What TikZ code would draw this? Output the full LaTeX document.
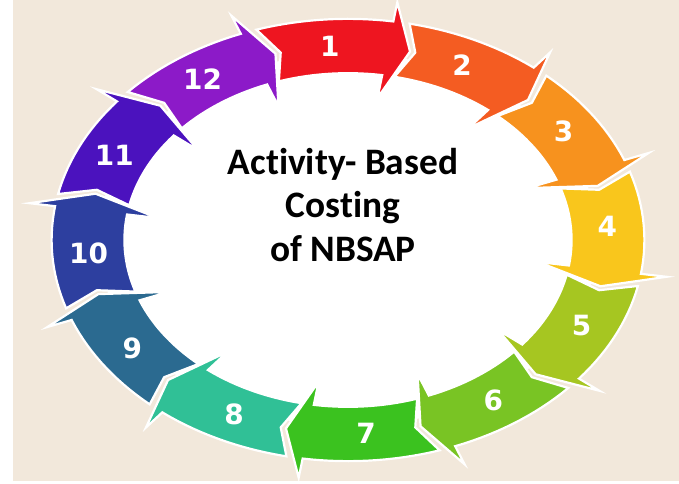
\documentclass[tikz,border=0pt]{standalone}
\usepackage{fontspec}
\setmainfont[Ligatures=NoCommon]{Carlito}
\newfontfamily\numfont{DejaVu Sans}

\definecolor{bgbeige}{HTML}{F2E8DB}
\definecolor{stepA}{HTML}{EE1520}
\definecolor{stepB}{HTML}{F45C22}
\definecolor{stepC}{HTML}{F7921E}
\definecolor{stepD}{HTML}{F9C61C}
\definecolor{stepE}{HTML}{A6C621}
\definecolor{stepF}{HTML}{79C424}
\definecolor{stepG}{HTML}{3BC21F}
\definecolor{stepH}{HTML}{30C096}
\definecolor{stepI}{HTML}{2B6A90}
\definecolor{stepJ}{HTML}{2D3F9F}
\definecolor{stepK}{HTML}{4B12BE}
\definecolor{stepL}{HTML}{8C1AC8}

\tikzset{
  ringarrow/.style={draw=white, line width=2.2pt, line join=miter},
  stepnum/.style={text=white, font=\numfont\bfseries\fontsize{28}{28}\selectfont},
}

\begin{document}
\begin{tikzpicture}[x=1bp, y=-1bp]

	%paper and white margin
	\fill[white] (0,0) rectangle (679,484);
	\fill[bgbeige] (13,0) rectangle (679,481);
	\useasboundingbox (0,0) rectangle (679,484);

	%white middle
	\fill[white] (348,240) ellipse [x radius=250, y radius=186];

	%ring of twelve arrows
	\foreach \k/\col in {1/stepA,2/stepB,3/stepC,4/stepD,5/stepE,6/stepF,
	                     7/stepG,8/stepH,9/stepI,10/stepJ,11/stepK,12/stepL} {
		\pgfmathsetmacro{\ph}{-93+30*(\k-1)}
		\pgfmathsetmacro{\ta}{\ph-15}
		\pgfmathsetmacro{\na}{\ph-12}
		\pgfmathsetmacro{\ba}{\ph+11.8}
		\pgfmathsetmacro{\pa}{\ph+16.8}
		\filldraw[ringarrow, fill=\col]
			plot[domain=\ta:\ba, samples=16] ({348+1.14*260*cos(\x)},{240+1.14*194*sin(\x)})
			-- ({348+1.24*260*cos(\ba)},{240+1.24*194*sin(\ba)})
			-- ({348+260*cos(\pa)},{240+194*sin(\pa)})
			-- ({348+0.74*260*cos(\ba)},{240+0.74*194*sin(\ba)})
			-- plot[domain=\ba:\ta, samples=16] ({348+0.86*260*cos(\x)},{240+0.86*194*sin(\x)})
			-- ({348+260*cos(\na)},{240+194*sin(\na)}) -- cycle;
		\node[stepnum] (num\k) at ({348+260*cos(\ph-1)},{240+194*sin(\ph-1)}) {\k};
	}

	%title in the middle
	\node[align=center, font=\bfseries\fontsize{37.5}{44}\selectfont] (title) at (343,205)
		{Activity- Based\\Costing\\of NBSAP};

\end{tikzpicture}
\end{document}
